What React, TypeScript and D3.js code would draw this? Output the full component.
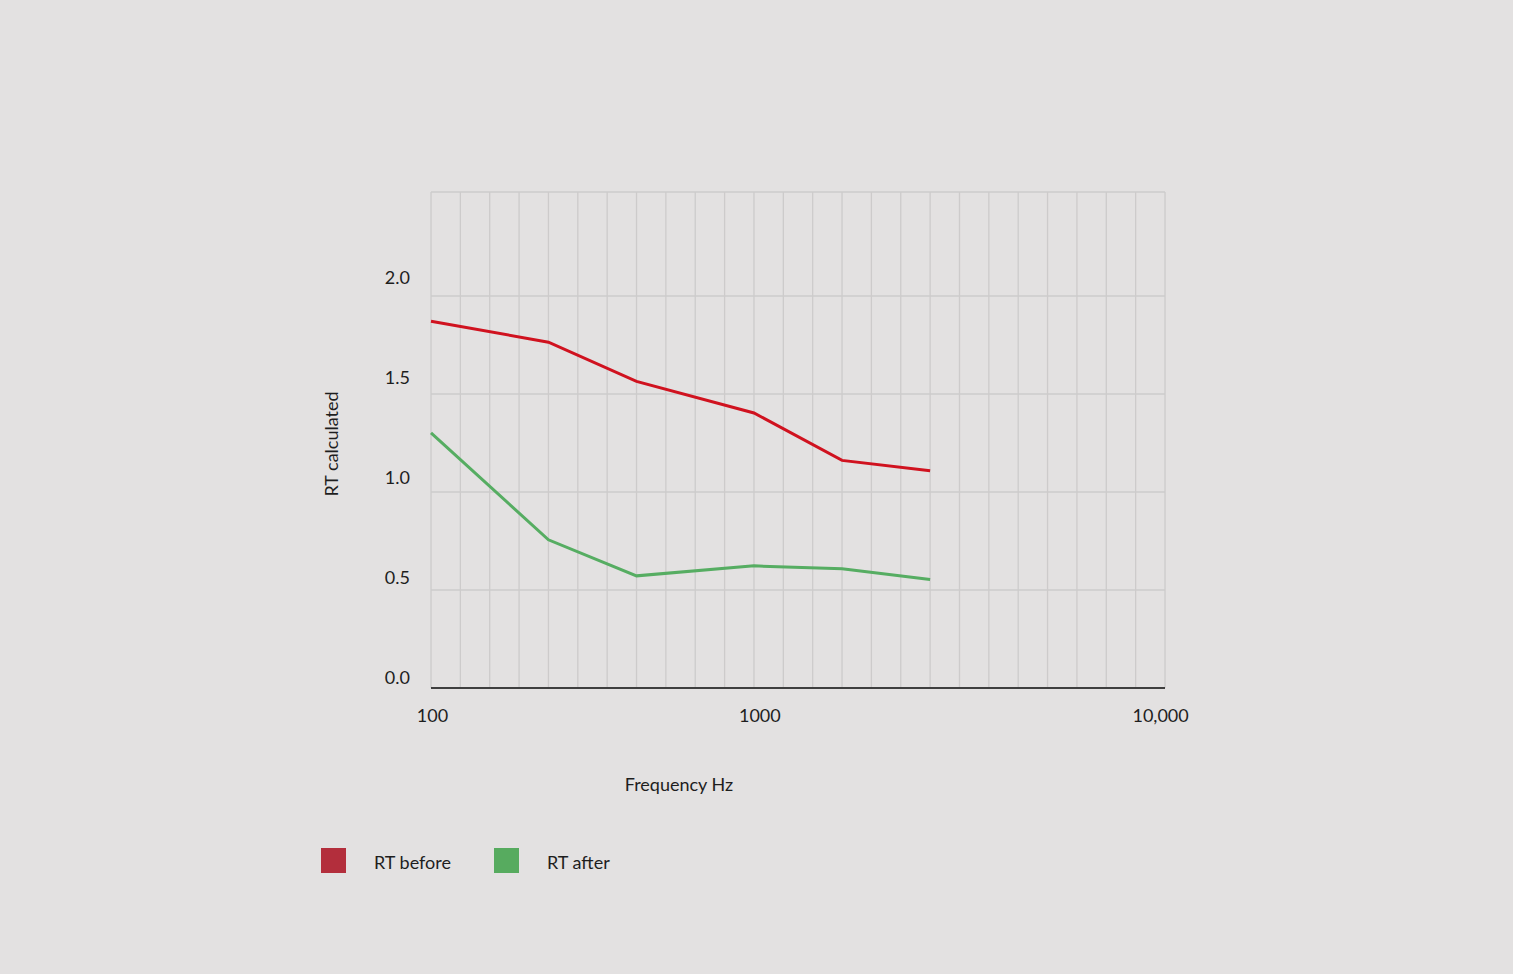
import * as d3 from "d3";

// grid columns are evenly spaced, not a true log scale
const gridColumns = d3.range(0, 26);
const yGridValues = [0.5, 1.0, 1.5, 2.0];
const yTickLabels = ["0.0", "0.5", "1.0", "1.5", "2.0"];
const yTickValues = [0, 0.5, 1.0, 1.5, 2.0];

const xTickLabels = ["100", "1000", "10,000"];
const xTickPositions = [0.05, 11.2, 24.85];

// octave bands, as column index on the grid
const bandColumns = [0, 4, 7, 11, 14, 17];
const rtBefore = [1.871, 1.764, 1.564, 1.403, 1.161, 1.108];
const rtAfter = [1.301, 0.756, 0.572, 0.623, 0.608, 0.553];

const seriesNames = ["RT before", "RT after"];
const lineColors = ["#d0121f", "#56ad62"];
const legendColors = ["#b32e3c", "#57ab5f"];

const W = 1513;
const H = 974;
const FONT = "Lato, 'Open Sans', sans-serif";

export default function App() {
  const x = d3.scaleLinear().domain([0, 25]).range([431, 1165]);
  const y = d3.scaleLinear().domain([0, 2.53]).range([688, 192]);
  // labels sit a little above their grid lines
  const yLabel = d3.scaleLinear().domain([0, 2]).range([684, 284]);

  const line = d3
    .line<[number, number]>()
    .x((d) => x(d[0]))
    .y((d) => y(d[1]));

  const series = [rtBefore, rtAfter].map((vals) =>
    vals.map((v, i) => [bandColumns[i], v] as [number, number])
  );

  return (
    <div style={{ position: "fixed", left: 0, top: 0 }}>
      <svg width={W} height={H} style={{ display: "block", background: "#e3e1e1" }}>
        <rect x={0} y={0} width={W} height={H} fill="#e3e1e1" />

        {/* vertical grid */}
        {gridColumns.map((c) => (
          <line
            key={"v" + c}
            x1={x(c)}
            x2={x(c)}
            y1={y(2.53)}
            y2={y(0)}
            stroke="#cdcbcb"
            strokeWidth={1.3}
          />
        ))}

        {/* horizontal grid */}
        {[...yGridValues, 2.53].map((v) => (
          <line
            key={"h" + v}
            x1={x(0)}
            x2={x(25)}
            y1={y(v)}
            y2={y(v)}
            stroke="#cdcbcb"
            strokeWidth={1.5}
          />
        ))}

        {/* x axis baseline */}
        <line x1={x(0)} x2={x(25)} y1={y(0)} y2={y(0)} stroke="#3f3f3f" strokeWidth={2} />

        {/* y tick labels */}
        {yTickValues.map((v, i) => (
          <text
            key={"yl" + v}
            x={410}
            y={yLabel(v)}
            textAnchor="end"
            fontFamily={FONT}
            fontSize={18}
            fill="#1e1e1e"
          >
            {yTickLabels[i]}
          </text>
        ))}

        {/* x tick labels */}
        {xTickLabels.map((t, i) => (
          <text
            key={"xl" + t}
            x={x(xTickPositions[i])}
            y={722}
            textAnchor="middle"
            fontFamily={FONT}
            fontSize={18}
            fill="#1e1e1e"
          >
            {t}
          </text>
        ))}

        {/* axis titles */}
        <text
          x={679}
          y={791}
          textAnchor="middle"
          fontFamily={FONT}
          fontSize={18}
          fill="#1e1e1e"
        >
          Frequency Hz
        </text>
        <text
          transform="translate(338,444) rotate(-90)"
          textAnchor="middle"
          fontFamily={FONT}
          fontSize={18}
          fill="#1e1e1e"
        >
          RT calculated
        </text>

        {/* series lines */}
        {series.map((s, i) => (
          <path
            key={"s" + i}
            d={line(s) ?? ""}
            fill="none"
            stroke={lineColors[i]}
            strokeWidth={3}
            strokeLinejoin="miter"
          />
        ))}

        {/* legend */}
        {seriesNames.map((name, i) => {
          const lx = 321 + i * 173;
          return (
            <g key={"lg" + name}>
              <rect x={lx} y={848} width={25} height={25} fill={legendColors[i]} />
              <text
                x={lx + 53}
                y={869}
                fontFamily={FONT}
                fontSize={18}
                fill="#1e1e1e"
              >
                {name}
              </text>
            </g>
          );
        })}
      </svg>
    </div>
  );
}
